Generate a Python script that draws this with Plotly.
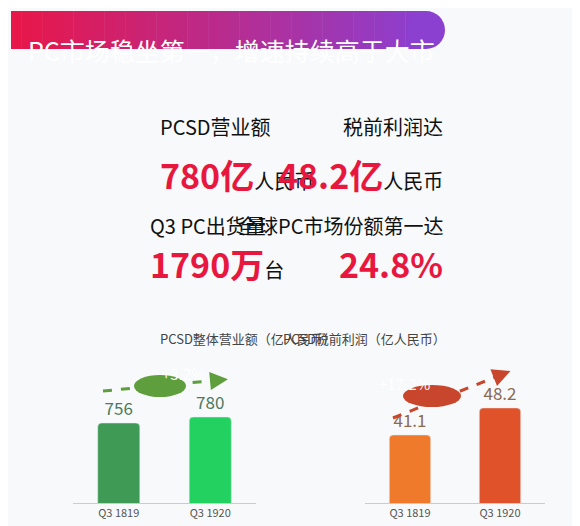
import plotly.graph_objects as go

quarters = ["Q3 1819", "Q3 1920"]
revenue = [756, 780]
profit = [41.1, 48.2]
revenue_growth = "+3.2%"
profit_growth = "+17.2%"

W, H = 580, 526
def px(x): return x / W
def py(y): return 1 - y / H

fig = go.Figure()
fig.add_trace(go.Bar(x=quarters, y=revenue, xaxis="x", yaxis="y", width=0.46,
                     marker=dict(color=["#3f9a55", "#22d160"], cornerradius=4),
                     text=[str(v) for v in revenue], textposition="outside",
                     textfont=dict(size=17, color="#4c7a5e"), cliponaxis=False))
fig.add_trace(go.Bar(x=quarters, y=profit, xaxis="x2", yaxis="y2", width=0.46,
                     marker=dict(color=["#ef7a2c", "#e0522a"], cornerradius=4),
                     text=[str(v) for v in profit], textposition="outside",
                     textfont=dict(size=17, color="#8c6a52"), cliponaxis=False))

ax_common = dict(showgrid=False, zeroline=False, showline=True, linecolor="#cccccc",
                 ticks="", tickfont=dict(size=11, color="#555"), fixedrange=True)
fig.update_layout(
    width=W, height=H, margin=dict(l=0, r=0, t=0, b=0),
    paper_bgcolor="#f7f9fb", plot_bgcolor="rgba(0,0,0,0)", showlegend=False,
    font=dict(family="Noto Sans CJK SC, Noto Sans, sans-serif"),
    xaxis=dict(domain=[px(65), px(248)], anchor="y", **ax_common),
    yaxis=dict(domain=[py(495), py(330)], range=[436, 1096], visible=False),
    xaxis2=dict(domain=[px(357), px(537)], anchor="y2", **ax_common),
    yaxis2=dict(domain=[py(495), py(330)], range=[23.2, 66.6], visible=False),
)

# header gradient bar
n = 40
c0, c1 = (232, 23, 74), (140, 64, 208)
x0, x1 = 3, 418
for i in range(n):
    t = i / (n - 1)
    col = "rgb(%d,%d,%d)" % tuple(int(a + (b - a) * t) for a, b in zip(c0, c1))
    fig.add_shape(type="rect", xref="paper", yref="paper", line_width=0, fillcolor=col,
                  x0=px(x0 + (x1 - x0) * i / n), x1=px(x0 + (x1 - x0) * (i + 1) / n + 0.5),
                  y0=py(41), y1=py(3))
fig.add_shape(type="circle", xref="paper", yref="paper", line_width=0, fillcolor="rgb(140,64,208)",
              x0=px(399), x1=px(437), y0=py(41), y1=py(3))
fig.add_shape(type="rect", xref="paper", yref="paper", line_width=0, fillcolor="rgb(140,64,208)",
              x0=px(410), x1=px(418), y0=py(41), y1=py(3))
fig.add_annotation(x=px(18), y=py(22), xref="paper", yref="paper", xanchor="left",
                   text="PC市场稳坐第一，增速持续高于大市", showarrow=False,
                   font=dict(size=25, color="white"))

red = "#e8173e"
def stat(xc, ylab, yval, label, big, unit):
    fig.add_annotation(x=px(xc), y=py(ylab), xref="paper", yref="paper", showarrow=False,
                       text=label, font=dict(size=20, color="#111"))
    txt = f"<b><span style='font-size:34px;color:{red}'>{big}</span></b>"
    if unit:
        txt += f"<span style='font-size:20px;color:#111'>{unit}</span>"
    fig.add_annotation(x=px(xc), y=py(yval), xref="paper", yref="paper", showarrow=False, text=txt)

stat(150, 102, 140, "PCSD营业额", "780亿", "人民币")
stat(437, 102, 140, "税前利润达", "48.2亿", "人民币")
stat(140, 217, 255, "Q3 PC出货量", "1790万", "台")
stat(437, 217, 255, "全球PC市场份额第一达", "24.8%", "")

fig.add_annotation(x=px(150), y=py(330), xref="paper", yref="paper", showarrow=False,
                   text="PCSD整体营业额（亿人民币）", font=dict(size=13, color="#444"))
fig.add_annotation(x=px(440), y=py(330), xref="paper", yref="paper", showarrow=False,
                   text="PCSD税前利润（亿人民币）", font=dict(size=13, color="#444"))

# growth arrows
def growth(xa, ya, xb, yb, xc, yc, wpill, color, label):
    fig.add_shape(type="line", xref="paper", yref="paper", x0=px(xa), y0=py(ya), x1=px(xb), y1=py(yb),
                  line=dict(color=color, width=3, dash="dash"))
    dx, dy = xb - xa, yb - ya
    L = (dx * dx + dy * dy) ** 0.5
    fig.add_annotation(x=px(xb + 8 * dx / L), y=py(yb + 8 * dy / L), ax=-10 * dx / L, ay=-10 * dy / L,
                       xref="paper", yref="paper", showarrow=True, arrowhead=2, arrowsize=1.2,
                       arrowwidth=3, arrowcolor=color, text="")
    fig.add_shape(type="circle", xref="paper", yref="paper", line_width=0, fillcolor=color,
                  x0=px(xc - wpill / 2), x1=px(xc + wpill / 2), y0=py(yc + 11), y1=py(yc - 11))
    fig.add_annotation(x=px(xc), y=py(yc), xref="paper", yref="paper", showarrow=False,
                       text=label, font=dict(size=15, color="white"))

growth(95, 383, 212, 372, 152, 378, 52, "#5f9e3c", revenue_growth)
growth(385, 410, 495, 366, 424, 388, 58, "#c8472c", profit_growth)

fig.write_html("out.html")
